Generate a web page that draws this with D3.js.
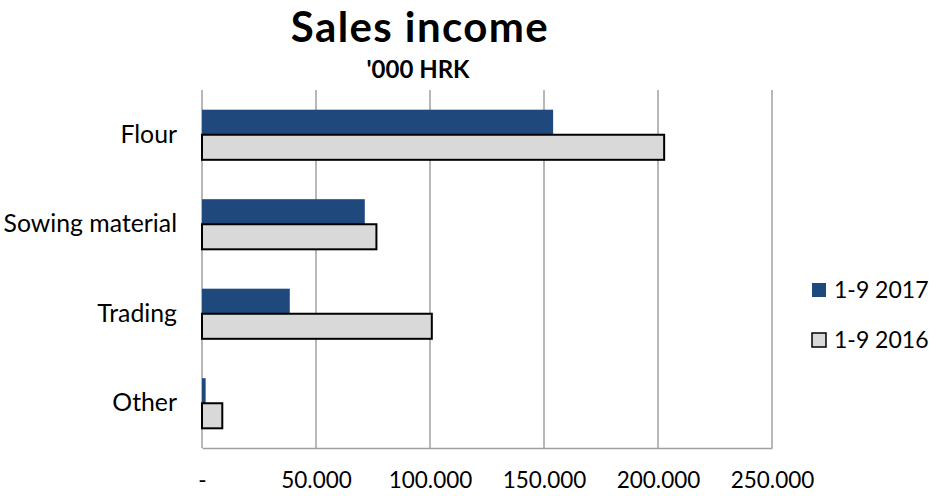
<!DOCTYPE html>
<html>
<head>
<meta charset="utf-8">
<style>
  body { margin: 0; background: #fff; font-family: Lato, "Open Sans", sans-serif; }
  .grid line { stroke: #a0a0a0; stroke-width: 1.5; }
</style>
<title>Sales income</title>
</head>
<body>
<script src="https://cdn.jsdelivr.net/npm/d3@7"></script>
<script>

// chart data
var categories = ["Flour", "Sowing material", "Trading", "Other"];
var seriesNames = ["1-9 2017", "1-9 2016"];
var sales2017 = [154000, 71400, 38500, 1600];
var sales2016 = [202700, 76500, 100800, 8900];
var tickValues = [0, 50000, 100000, 150000, 200000, 250000];

var colors = {"1-9 2017": "#1f497d", "1-9 2016": "#d9d9d9"};

var W = 929, H = 496;
var margin = {top: 90, right: 157, bottom: 48, left: 202},
    width = W - margin.left - margin.right,
    height = H - margin.top - margin.bottom;

var rows = categories.map((c, i) => ({cat: c, values: [
  {series: seriesNames[0], value: sales2017[i]},
  {series: seriesNames[1], value: sales2016[i]}
]}));

var locale = d3.formatLocale({decimal: ",", thousands: ".", grouping: [3], currency: ["", ""]});
var fmt = locale.format(",");

var x = d3.scaleLinear().domain([0, 250000]).range([0, width]);
var y = d3.scaleBand().domain(categories).range([0, height])
    .paddingInner(0.44).paddingOuter(0.22);
var ySub = d3.scaleBand().domain(seriesNames).range([0, y.bandwidth()]);

var svg = d3.select("body").append("svg")
    .attr("width", W).attr("height", H);

// titles
svg.append("text")
    .attr("x", 420).attr("y", 42)
    .attr("text-anchor", "middle")
    .style("font-size", "42px").style("font-weight", "bold")
    .style("letter-spacing", "1.4px")
    .text("Sales income");
svg.append("text")
    .attr("x", 418).attr("y", 78)
    .attr("text-anchor", "middle")
    .style("font-size", "24px").style("font-weight", "bold")
    .text("'000 HRK");

var g = svg.append("g")
    .attr("transform", `translate(${margin.left},${margin.top})`);

// vertical gridlines
g.append("g").attr("class", "grid")
  .selectAll("line").data(tickValues).enter().append("line")
    .attr("x1", d => x(d)).attr("x2", d => x(d))
    .attr("y1", 0).attr("y2", height);

// bottom axis line with labels
var xAxis = d3.axisBottom(x).tickValues(tickValues)
    .tickFormat(d => d === 0 ? "-" : fmt(d))
    .tickSize(0).tickPadding(24);
var ax = g.append("g")
    .attr("transform", `translate(0,${height})`)
    .call(xAxis);
ax.select(".domain").attr("stroke", "#a0a0a0").attr("stroke-width", 1.5);
ax.selectAll("text").style("font-size", "22.5px").style("font-family", "Lato, sans-serif").attr("fill", "#000");

// category labels
var yAxis = d3.axisLeft(y).tickSize(0).tickPadding(25);
var ay = g.append("g").call(yAxis);
ay.select(".domain").remove();
ay.selectAll("text").style("font-size", "24.8px").style("font-family", "Lato, sans-serif").attr("fill", "#000");

// bars
var groups = g.selectAll(".cat").data(rows).enter().append("g")
    .attr("class", "cat")
    .attr("transform", d => `translate(0,${y(d.cat)})`);
groups.selectAll("rect").data(d => d.values).enter().append("rect")
    .attr("x", x(0))
    .attr("y", d => ySub(d.series))
    .attr("width", d => x(d.value) - x(0))
    .attr("height", ySub.bandwidth())
    .attr("fill", d => colors[d.series])
    .attr("stroke", d => d.series === seriesNames[1] ? "#000" : "none")
    .attr("stroke-width", 2);

// legend
var legend = svg.append("g").attr("transform", "translate(812,283)");
var li = legend.selectAll("g").data(seriesNames).enter().append("g")
    .attr("transform", (d, i) => `translate(0,${i * 50})`);
li.append("rect")
    .attr("width", 14).attr("height", 14)
    .attr("fill", d => colors[d])
    .attr("stroke", d => d === seriesNames[1] ? "#000" : "none")
    .attr("stroke-width", 1.5);
li.append("text")
    .attr("x", 22).attr("y", 7).attr("dy", "0.35em")
    .style("font-size", "23px")
    .text(d => d);

</script>
</body>
</html>
